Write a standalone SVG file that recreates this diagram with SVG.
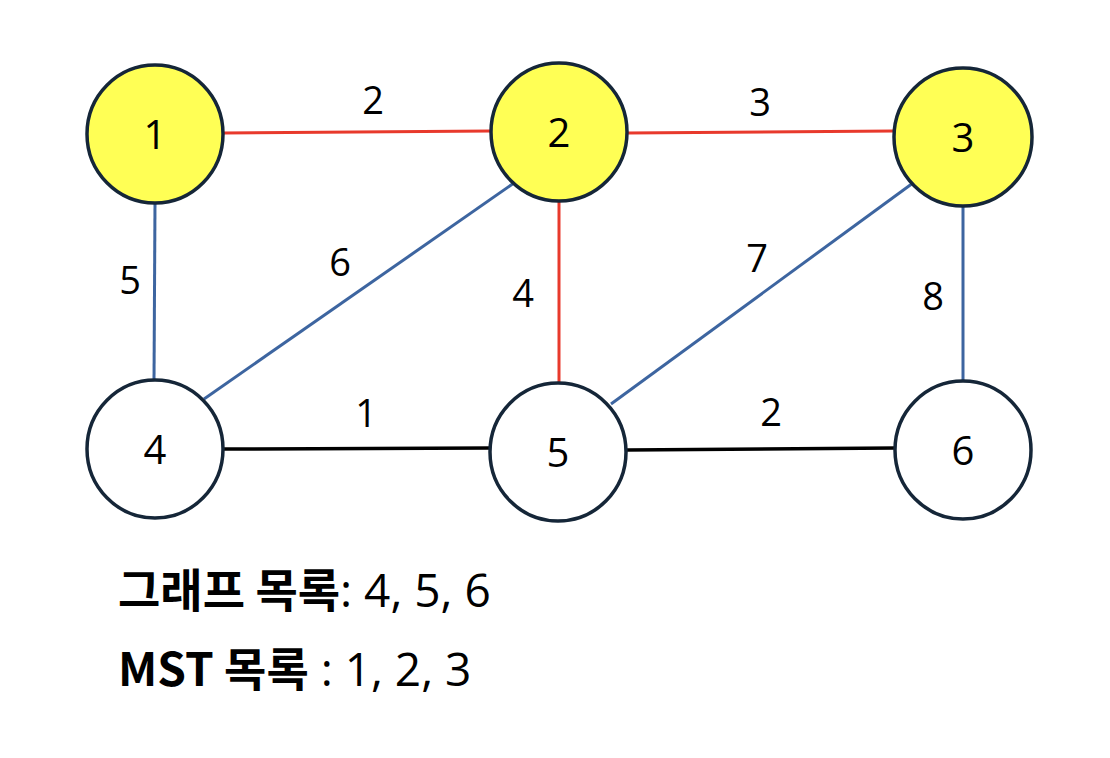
<svg xmlns="http://www.w3.org/2000/svg" width="1110" height="758" viewBox="0 0 1110 758">
<style>
.node{stroke:#152638;stroke-width:3.5}
.y{fill:#FFFF55}
.w{fill:#FFFFFF}
.nl{font-family:"Open Sans","Noto Sans",sans-serif;font-size:40px;fill:#000;text-anchor:middle}
.el{font-family:"Open Sans","Noto Sans",sans-serif;font-size:38px;fill:#000;text-anchor:middle}
.red{stroke:#E8392C;stroke-width:3}
.blue{stroke:#3D65A0;stroke-width:3}
.blk{stroke:#000;stroke-width:3.5}
.bt{font-family:"Open Sans","Noto Sans CJK KR",sans-serif;font-size:46px;fill:#000}
.b{font-family:"Noto Sans CJK KR",sans-serif;font-weight:bold}
</style>
<rect width="1110" height="758" fill="#fff"/>
<g id="connectors">
<line class="red" x1="224" y1="133" x2="491" y2="131"/>
<line class="red" x1="628" y1="133" x2="894" y2="131"/>
<line class="blue" x1="155" y1="203" x2="154" y2="381"/>
<line class="blue" x1="514" y1="183" x2="204" y2="399"/>
<line class="red" x1="559" y1="202" x2="559" y2="385"/>
<line class="blue" x1="913" y1="183" x2="611" y2="404"/>
<line class="blue" x1="963" y1="207" x2="963" y2="382"/>
<line class="blk" x1="224" y1="449" x2="490" y2="448"/>
<line class="blk" x1="627" y1="450" x2="895" y2="448"/>
<text class="el" x="373" y="114">2</text>
<text class="el" x="760" y="116">3</text>
<text class="el" x="130" y="294">5</text>
<text class="el" x="340" y="276">6</text>
<text class="el" x="523" y="307">4</text>
<text class="el" x="757" y="272">7</text>
<text class="el" x="933" y="310">8</text>
<text class="el" x="366" y="427">1</text>
<text class="el" x="771" y="426">2</text>
</g>
<g id="n1"><ellipse class="node y" cx="155" cy="134" rx="68" ry="69"/><text class="nl" x="155" y="149">1</text></g>
<g id="n2"><ellipse class="node y" cx="559" cy="132" rx="68" ry="69"/><text class="nl" x="559" y="147">2</text></g>
<g id="n3"><ellipse class="node y" cx="963" cy="137" rx="69" ry="69"/><text class="nl" x="963" y="152">3</text></g>
<g id="n4"><ellipse class="node w" cx="155" cy="449" rx="68" ry="69"/><text class="nl" x="155" y="464">4</text></g>
<g id="n5"><ellipse class="node w" cx="558" cy="452" rx="68" ry="69"/><text class="nl" x="558" y="467">5</text></g>
<g id="n6"><ellipse class="node w" cx="963" cy="450" rx="68" ry="69"/><text class="nl" x="963" y="465">6</text></g>
<g id="legend">
<text class="bt" x="118" y="607"><tspan class="b">그래프 목록</tspan>: 4, 5, 6</text>
<text class="bt" x="118" y="686"><tspan class="b">MST 목록</tspan> : 1, 2, 3</text>
</g>
</svg>
